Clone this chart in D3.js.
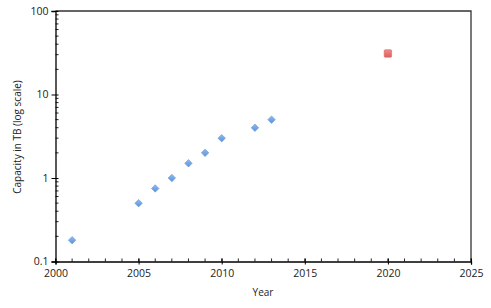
<!DOCTYPE html>
<html><head><meta charset="utf-8">
<script src="https://cdn.jsdelivr.net/npm/d3@7"></script>
<style>body{margin:0;background:#fff;} text{font-family:"Open Sans","Liberation Sans",sans-serif;}</style>
</head><body>
<svg id="c" width="491" height="308"></svg>
<script>
const years = [2001, 2005, 2006, 2007, 2008, 2009, 2010, 2012, 2013];
const capacity = [0.18, 0.5, 0.75, 1, 1.5, 2, 3, 4, 5];
const projYears = [2020];
const projCapacity = [31];
const xTicks = [2000, 2005, 2010, 2015, 2020, 2025];
const yTicks = [0.1, 1, 10, 100];

const svg = d3.select("#c");
const m = {l: 55.5, r: 471, t: 11, b: 261.5};
const x = d3.scaleLinear().domain([2000, 2025]).range([m.l, m.r]);
const y = d3.scaleLog().domain([0.1, 100]).range([m.b, m.t]);

// frame top/right
svg.append("path").attr("d", `M${m.l},${m.t}H${m.r}V${m.b}`).attr("fill","none").attr("stroke","#333").attr("stroke-width",1.3);

// minor y ticks
const minorY = [];
for (let d = 0.1; d < 100; d *= 10) for (let k = 2; k <= 9; k++) minorY.push(d * k);
svg.append("g").selectAll("line").data(minorY).join("line")
  .attr("x1", m.l).attr("x2", m.l + 3).attr("y1", d => y(d)).attr("y2", d => y(d))
  .attr("stroke", "#222").attr("stroke-width", 1);
// minor x ticks
const minorX = d3.range(2000, 2026);
svg.append("g").selectAll("line").data(minorX).join("line")
  .attr("x1", d => x(d)).attr("x2", d => x(d)).attr("y1", m.b).attr("y2", m.b - 3)
  .attr("stroke", "#222").attr("stroke-width", 1);

const yAxis = svg.append("g").attr("transform", `translate(${m.l},0)`)
  .call(d3.axisLeft(y).tickValues(yTicks).tickFormat(d => d3.format("")(d)).tickSize(4).tickPadding(3));
yAxis.select(".domain").attr("stroke","#000").attr("stroke-width",1.3);
yAxis.selectAll(".tick line").attr("x2", 3).attr("x1", -4);
yAxis.selectAll("text").attr("font-size", 10.5).attr("fill","#222");

const xAxis = svg.append("g").attr("transform", `translate(0,${m.b})`)
  .call(d3.axisBottom(x).tickValues(xTicks).tickFormat(d3.format("d")).tickSize(3).tickPadding(5));
xAxis.select(".domain").attr("stroke","#000").attr("stroke-width",1.3);
xAxis.selectAll(".tick line").attr("y1", -3).attr("y2", 3);
xAxis.selectAll("text").attr("font-size", 10.5).attr("fill","#222");

svg.append("text").attr("x", 263).attr("y", 296).attr("text-anchor","middle")
  .attr("font-size", 10).attr("fill","#222").text("Year");
svg.append("text").attr("transform", "translate(21,137) rotate(-90)").attr("text-anchor","middle")
  .attr("font-size", 10).attr("fill","#222").text("Capacity in TB (log scale)");

const defs = svg.append("defs");
const gb = defs.append("linearGradient").attr("id","gb").attr("x1",0).attr("y1",0).attr("x2",0).attr("y2",1);
gb.append("stop").attr("offset","0%").attr("stop-color","#8fbaf0");
gb.append("stop").attr("offset","100%").attr("stop-color","#5b92d8");
const gr = defs.append("linearGradient").attr("id","gr").attr("x1",0).attr("y1",0).attr("x2",0).attr("y2",1);
gr.append("stop").attr("offset","0%").attr("stop-color","#f08a88");
gr.append("stop").attr("offset","100%").attr("stop-color","#e05e5c");

const pts = years.map((d, i) => ({yr: d, v: capacity[i]}));
svg.append("g").selectAll("path").data(pts).join("path")
  .attr("d", d3.symbol(d3.symbolDiamond2, 36)())
  .attr("transform", d => `translate(${x(d.yr)},${y(d.v)})`)
  .attr("fill", "url(#gb)").attr("stroke", "#6a9ad8").attr("stroke-width", 0.6);

const proj = projYears.map((d, i) => ({yr: d, v: projCapacity[i]}));
svg.append("g").selectAll("rect").data(proj).join("rect")
  .attr("x", d => x(d.yr) - 3.7).attr("y", d => y(d.v) - 3.7).attr("width", 7.4).attr("height", 7.4)
  .attr("rx", 1)
  .attr("fill", "url(#gr)").attr("stroke", "#d06a68").attr("stroke-width", 0.6);
</script>
</body></html>
